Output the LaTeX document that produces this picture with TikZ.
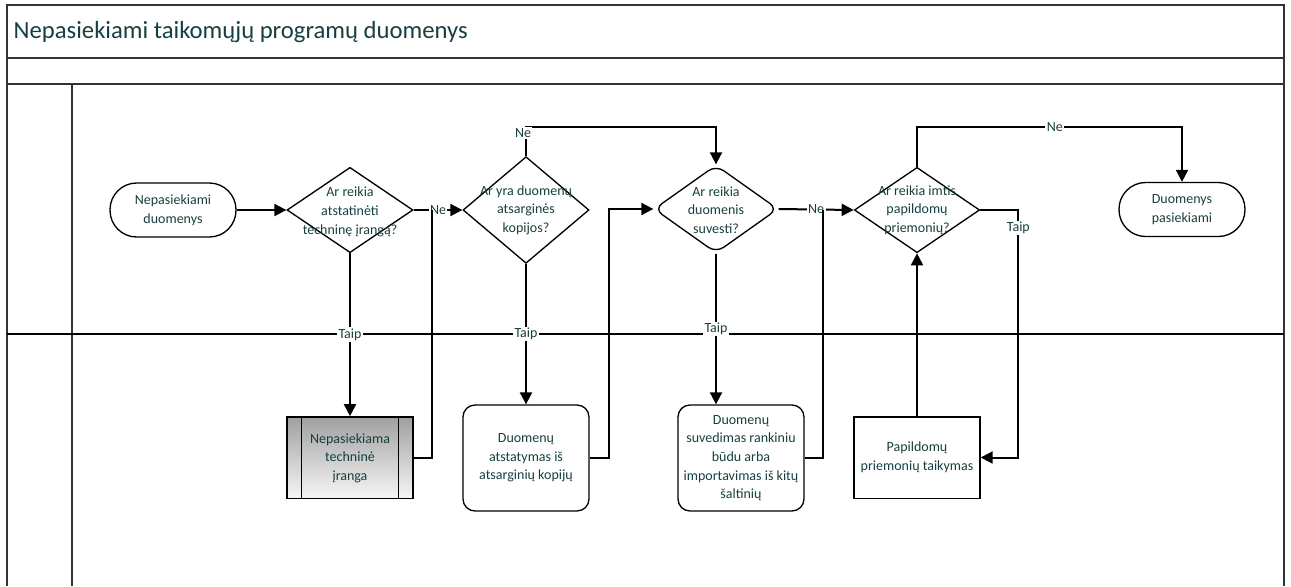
\documentclass[tikz,border=0pt]{standalone}
\usepackage{fontspec}
\setmainfont{Carlito}
\usetikzlibrary{arrows.meta,shapes.geometric,calc}
\definecolor{ink}{HTML}{173F3F}
\definecolor{rule}{HTML}{333333}
\begin{document}
\begin{tikzpicture}[x=0.75pt,y=-0.75pt,
  every node/.style={text=ink,font=\fontsize{10.5pt}{14pt}\selectfont,align=center},
  lanes/.style={draw=rule,line width=1.5pt},
  terminal/.style={draw=black,line width=1pt,rounded corners=20pt,
    minimum width=94.5pt,minimum height=40.5pt,inner sep=0pt},
  decision/.style={diamond,draw=black,line width=1pt,inner sep=0pt},
  procbox/.style={rectangle,draw=black,line width=1pt,
    minimum width=94.5pt,inner sep=0pt},
  subproc/.style={procbox,top color={rgb,255:red,160;green,160;blue,160},
    bottom color={rgb,255:red,246;green,246;blue,246}},
  flow/.style={draw=black,line width=1.5pt,-{Triangle[length=9pt,width=9pt]}},
  link/.style={draw=black,line width=1.5pt},
  lbl/.style={fill=white,inner sep=1pt}
]
\useasboundingbox (0,0) rectangle (1291,586);

% pool frame and lanes
\draw[lanes] (7,586) -- (7,5) -- (1284,5) -- (1284,586);
\draw[lanes] (7,58) -- (1284,58);
\draw[lanes] (7,84) -- (1284,84);
\draw[lanes] (72,84) -- (72,586);
\draw[lanes,draw=black] (7,334) -- (1284,334);
\node[anchor=west,font=\fontsize{18.5pt}{22pt}\selectfont] (title) at (9,32)
  {Nepasiekiami taikomųjų programų duomenys};

% upper lane
\node[terminal] (s) at (173,210) {Nepasiekiami\\duomenys};
\node[decision,minimum width=94.5pt,minimum height=64pt] (d1) at (350,210) {};
\node (t1) at (350,212) {Ar reikia\\atstatinėti\\techninę įrangą?};
\node[decision,minimum width=94.5pt,minimum height=80pt] (d2) at (526,210) {};
\node (t2) at (526,210) {Ar yra duomenų\\atsarginės\\kopijos?};
\node[decision,rounded corners=7pt,minimum width=93pt,minimum height=66pt] (d3) at (716,209) {};
\node (t3) at (716,210) {Ar reikia\\duomenis\\suvesti?};
\node[decision,minimum width=94pt,minimum height=64pt] (d4) at (917,210) {};
\node (t4) at (917,210) {Ar reikia imtis\\papildomų\\priemonių?};
\node[terminal] (e) at (1182,209.5) {Duomenys\\pasiekiami};

% lower lane
\node[subproc,minimum height=61pt] (p1) at (350,457.5) {};
\draw[line width=1pt] ($(p1.north west)+(15,0)$) -- ($(p1.south west)+(15,0)$)
  ($(p1.north east)+(-15,0)$) -- ($(p1.south east)+(-15,0)$);
\node (tp1) at (350,458) {Nepasiekiama\\techninė\\įranga};
\node[procbox,rounded corners=9pt,minimum height=79.5pt] (p2) at (526,458) {Duomenų\\atstatymas iš\\atsarginių kopijų};
\node[procbox,rounded corners=9pt,minimum height=79.5pt] (p3) at (741,458) {Duomenų\\suvedimas rankiniu\\būdu arba\\importavimas iš kitų\\šaltinių};
\node[procbox,minimum height=61pt] (p4) at (917,457.5) {Papildomų\\priemonių taikymas};

% junction points where returning flows meet
\coordinate (j1) at (432,210);
\coordinate (j3) at (823,210);

% connectors
\draw[flow] (s.east) -- (d1.west);
\draw[flow] (d1.east) -- node[lbl,pos=0.5] (n1) {Ne} (d2.west);
\draw[flow] (d1.south) -- node[lbl,pos=0.5] (y1) {Taip} (p1.north);
\draw[link] (p1.east) -| (j1);

\draw[flow] (d2.north) -- ++(0,-29) -| (d3.north);
\node[lbl] (n2) at ($(d2.north)+(-3,-23)$) {Ne};
\draw[flow] (d2.south) -- node[lbl,pos=0.5] (y2) {Taip} (p2.north);
\draw[flow] (p2.east) -- ++(19,0) |- (d3.west);

\draw[flow] (d3.east) -- node[lbl,pos=0.5] (n3) {Ne} (d4.west);
\draw[flow] (d3.south) -- node[lbl,pos=0.5] (y3) {Taip} (d3.south |- p3.north);
\draw[link] (p3.east) -| (j3);

\draw[flow] (d4.north) -- ++(0,-40) -| node[lbl,pos=0.26] (n4) {Ne} (e.north);
\draw[flow] (d4.east) -- ++(38,0) |- (p4.east);
\node[lbl] (y4) at ($(d4.east)+(38,18)$) {Taip};
\draw[flow] (p4.north) -- (d4.south);
\end{tikzpicture}
\end{document}
